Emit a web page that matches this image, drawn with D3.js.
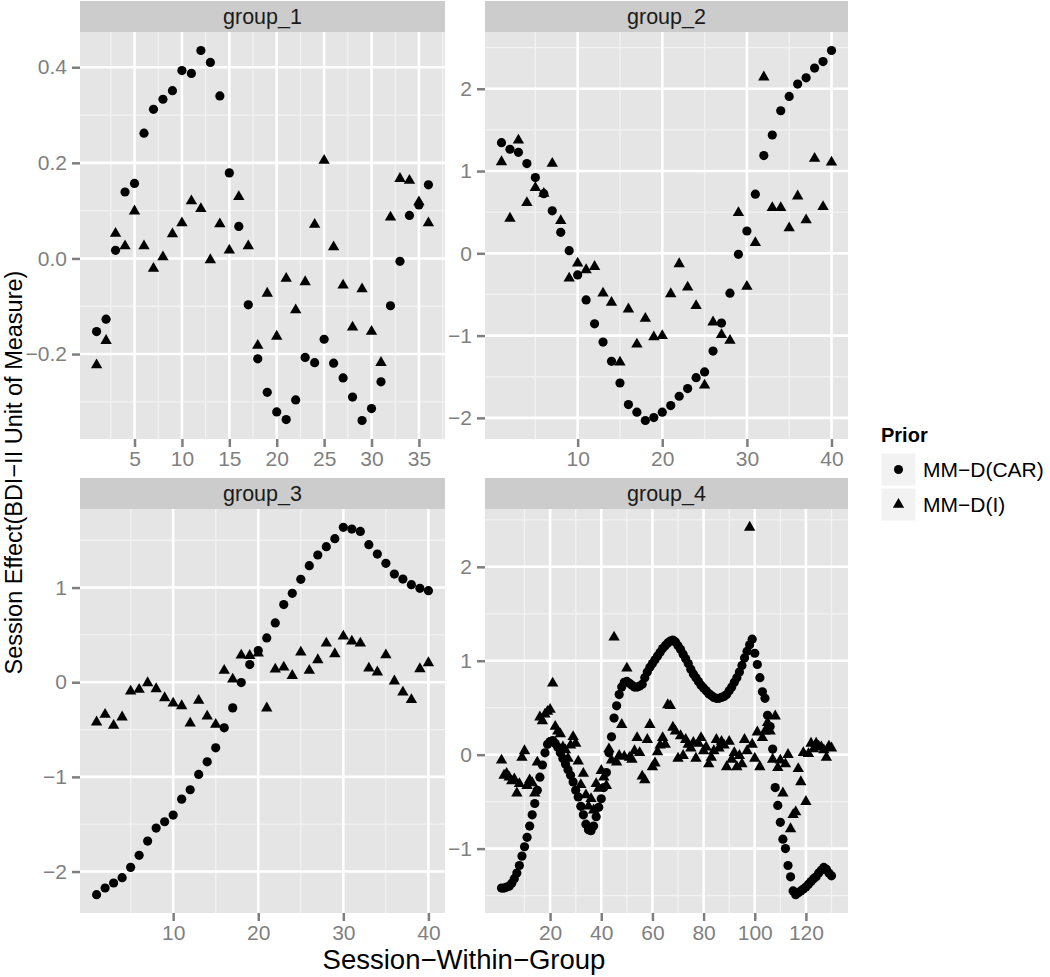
<!DOCTYPE html>
<html>
<head>
<meta charset="utf-8">
<script src="https://cdn.jsdelivr.net/npm/d3@7"></script>
<style>
  body { margin: 0; background: #fff; }
  svg { display: block; font-family: "Liberation Sans", Arial, sans-serif; }
</style>
</head>
<body>
<svg id="chart" width="1050" height="977"></svg>
<script>
// Session effects per group (index i -> session i+1)
var groupNames = ["group_1", "group_2", "group_3", "group_4"];
var priorNames = ["MM\u2212D(CAR)", "MM\u2212D(I)"];

var group1Car = [-0.153, -0.127, 0.017, 0.139, 0.157, 0.262, 0.312, 0.333, 0.351, 0.393,
  0.387, 0.435, 0.410, 0.340, 0.179, 0.067, -0.097, -0.210, -0.280, -0.321,
  -0.337, -0.296, -0.207, -0.218, -0.169, -0.219, -0.250, -0.290, -0.339, -0.314,
  -0.258, -0.099, -0.006, 0.090, 0.112, 0.154];
var group1Ind = [-0.223, -0.172, 0.052, 0.026, 0.099, 0.026, -0.021, 0.003, 0.051, 0.074,
  0.120, 0.104, -0.003, 0.072, 0.017, 0.129, 0.026, -0.182, -0.073, -0.163,
  -0.042, -0.108, -0.049, 0.071, 0.205, 0.024, -0.056, -0.144, -0.064, -0.153,
  -0.218, 0.086, 0.167, 0.163, 0.118, 0.074];

var group2Car = [1.345, 1.265, 1.228, 1.091, 0.921, 0.725, 0.517, 0.255, 0.032, -0.263,
  -0.566, -0.857, -1.079, -1.313, -1.576, -1.838, -1.931, -2.032, -1.996, -1.931,
  -1.851, -1.737, -1.644, -1.511, -1.442, -1.188, -0.848, -0.485, -0.012, 0.271,
  0.719, 1.188, 1.438, 1.733, 1.907, 2.057, 2.133, 2.251, 2.331, 2.465];
var group2Ind = [1.111, 0.424, 1.374, 0.614, 0.796, 0.727, 1.091, 0.396, -0.303, -0.121,
  -0.202, -0.162, -0.485, -0.598, -1.325, -0.679, -1.105, -0.792, -1.018, -1.002,
  -0.493, -0.129, -0.412, -0.638, -1.604, -0.836, -0.990, -1.059, 0.493, -0.404,
  0.129, 2.141, 0.554, 0.554, 0.307, 0.695, 0.404, 1.152, 0.566, 1.107];

var group3Car = [-2.244, -2.174, -2.121, -2.065, -1.956, -1.829, -1.678, -1.541, -1.474, -1.403,
  -1.235, -1.136, -0.974, -0.841, -0.693, -0.482, -0.271, -0.004, 0.186, 0.334,
  0.468, 0.626, 0.820, 0.939, 1.087, 1.231, 1.344, 1.432, 1.516, 1.636,
  1.618, 1.593, 1.453, 1.354, 1.256, 1.143, 1.090, 1.031, 0.992, 0.967];
var group3Ind = [-0.422, -0.341, -0.457, -0.369, -0.095, -0.077, -0.007, -0.070, -0.165, -0.222,
  -0.250, -0.433, -0.193, -0.359, -0.447, 0.123, 0.032, 0.285, 0.281, 0.306,
  -0.274, 0.137, 0.158, 0.070, 0.317, 0.123, 0.236, 0.412, 0.299, 0.485,
  0.433, 0.412, 0.148, 0.106, 0.288, 0.011, -0.106, -0.186, 0.141, 0.204];

var group4Car = [-1.42, -1.42, -1.41, -1.40, -1.37, -1.32, -1.26, -1.18, -1.08, -0.98,
  -0.88, -0.76, -0.64, -0.52, -0.38, -0.24, -0.11, 0.02, 0.11, 0.14,
  0.15, 0.12, 0.08, 0.02, -0.04, -0.10, -0.16, -0.22, -0.29, -0.38,
  -0.45, -0.55, -0.64, -0.74, -0.80, -0.81, -0.76, -0.66, -0.56, -0.47,
  -0.35, -0.19, 0.02, 0.19, 0.39, 0.52, 0.64, 0.72, 0.77, 0.78,
  0.76, 0.74, 0.72, 0.72, 0.73, 0.75, 0.82, 0.88, 0.93, 0.97,
  1.01, 1.05, 1.09, 1.13, 1.16, 1.19, 1.21, 1.22, 1.20, 1.16,
  1.12, 1.07, 1.02, 0.97, 0.91, 0.86, 0.82, 0.78, 0.74, 0.71,
  0.68, 0.65, 0.63, 0.61, 0.60, 0.60, 0.61, 0.62, 0.64, 0.68,
  0.72, 0.77, 0.82, 0.88, 0.95, 1.03, 1.10, 1.17, 1.23, 1.08,
  0.96, 0.82, 0.67, 0.60, 0.42, 0.30, 0.06, -0.35, -0.54, -0.72,
  -0.90, -1.00, -1.18, -1.30, -1.45, -1.49, -1.47, -1.45, -1.43, -1.41,
  -1.38, -1.35, -1.32, -1.30, -1.26, -1.23, -1.20, -1.22, -1.26, -1.29];
var group4Ind = [-0.06, -0.22, -0.20, -0.24, -0.28, -0.26, -0.41, -0.31, -0.03, 0.04,
  -0.33, -0.27, -0.30, -0.41, -0.08, 0.40, 0.36, 0.43, 0.46, 0.48,
  0.76, 0.30, 0.25, 0.22, 0.08, 0.05, -0.04, 0.10, 0.19, 0.12,
  -0.07, -0.32, -0.20, -0.43, -0.55, -0.47, -0.59, -0.31, -0.36, -0.17,
  -0.24, -0.33, 0.06, -0.06, 1.25, -0.08, -0.01, 0.32, -0.02, 0.92,
  -0.03, -0.05, 0.04, 0.18, 0.02, -0.23, -0.27, 0.16, 0.32, -0.13,
  -0.09, 0.03, 0.10, 0.18, 0.11, 0.53, 0.52, 0.29, 0.25, -0.04,
  0.20, -0.01, 0.16, 0.11, 0.07, 0.13, -0.04, 0.12, 0.18, 0.04,
  0.08, -0.10, -0.03, 0.04, 0.16, 0.07, 0.14, 0.10, -0.13, 0.14,
  -0.05, 0.02, -0.13, -0.01, -0.10, 0.16, 0.04, 2.42, 0.11, -0.04,
  0.24, -0.13, 0.18, 0.25, 0.34, 0.25, -0.05, 0.41, -0.14, -0.06,
  -0.41, -0.10, 0.00, -0.79, -0.64, -0.61, -0.15, -0.29, 0.02, -0.50,
  0.01, 0.12, 0.06, 0.12, 0.09, 0.08, 0.05, -0.03, 0.09, 0.07];

// Tick values per panel
var xTicks = [[5, 10, 15, 20, 25, 30, 35], [10, 20, 30, 40], [10, 20, 30, 40], [20, 40, 60, 80, 100, 120]];
var yTicks = [[-0.2, 0.0, 0.2, 0.4], [-2, -1, 0, 1, 2], [-2, -1, 0, 1], [-1, 0, 1, 2]];
var yFormats = [".1f", "d", "d", "d"];

var carSeries = [group1Car, group2Car, group3Car, group4Car];
var indSeries = [group1Ind, group2Ind, group3Ind, group4Ind];

// Panel rectangles (plot area)
var panels = [
  { x0: 80, x1: 445, y0: 32, y1: 439 },
  { x0: 485, x1: 848, y0: 32, y1: 439 },
  { x0: 80, x1: 445, y0: 509, y1: 913 },
  { x0: 485, x1: 848, y0: 509, y1: 913 }
];
var stripH = 31;

var svg = d3.select("#chart");
var grey50 = "#7f7f7f";

// ggplot-like minor breaks: midpoints between (extended) majors, inside the domain
function minorBreaks(ticks, domain) {
  var step = ticks[1] - ticks[0];
  var b = [ticks[0] - step].concat(ticks, [ticks[ticks.length - 1] + step]);
  var out = [];
  for (var i = 0; i < b.length - 1; i++) {
    var m = (b[i] + b[i + 1]) / 2;
    if (m > domain[0] && m < domain[1]) out.push(m);
  }
  return out;
}

function expand(lo, hi) {
  var e = (hi - lo) * 0.05;
  return [lo - e, hi + e];
}

panels.forEach(function(p, k) {
  var car = carSeries[k], ind = indSeries[k];
  var n = car.length;

  var x = d3.scaleLinear().domain(expand(1, n)).range([p.x0, p.x1]);
  var all = car.concat(ind);
  var y = d3.scaleLinear().domain(expand(d3.min(all), d3.max(all))).range([p.y1, p.y0]);

  var g = svg.append("g");

  // Strip
  g.append("rect")
    .attr("x", p.x0).attr("y", p.y0 - stripH)
    .attr("width", p.x1 - p.x0).attr("height", stripH)
    .attr("fill", "#cccccc");
  g.append("text")
    .attr("x", (p.x0 + p.x1) / 2).attr("y", p.y0 - stripH / 2)
    .attr("dy", "0.35em")
    .attr("text-anchor", "middle")
    .style("font-size", "21.5px")
    .attr("fill", "#1a1a1a")
    .text(groupNames[k]);

  // Panel background
  g.append("rect")
    .attr("x", p.x0).attr("y", p.y0)
    .attr("width", p.x1 - p.x0).attr("height", p.y1 - p.y0)
    .attr("fill", "#e5e5e5");

  // Minor grid
  g.selectAll(".xminor")
    .data(minorBreaks(xTicks[k], x.domain()))
    .enter().append("line")
    .attr("x1", function(d) { return x(d); }).attr("x2", function(d) { return x(d); })
    .attr("y1", p.y0).attr("y2", p.y1)
    .attr("stroke", "#f2f2f2").attr("stroke-width", 1.3);
  g.selectAll(".yminor")
    .data(minorBreaks(yTicks[k], y.domain()))
    .enter().append("line")
    .attr("x1", p.x0).attr("x2", p.x1)
    .attr("y1", function(d) { return y(d); }).attr("y2", function(d) { return y(d); })
    .attr("stroke", "#f2f2f2").attr("stroke-width", 1.3);

  // Major grid
  g.selectAll(".xmajor")
    .data(xTicks[k])
    .enter().append("line")
    .attr("x1", function(d) { return x(d); }).attr("x2", function(d) { return x(d); })
    .attr("y1", p.y0).attr("y2", p.y1)
    .attr("stroke", "#ffffff").attr("stroke-width", 2.6);
  g.selectAll(".ymajor")
    .data(yTicks[k])
    .enter().append("line")
    .attr("x1", p.x0).attr("x2", p.x1)
    .attr("y1", function(d) { return y(d); }).attr("y2", function(d) { return y(d); })
    .attr("stroke", "#ffffff").attr("stroke-width", 2.6);

  // Axes
  var xAxis = g.append("g")
    .attr("transform", "translate(0," + p.y1 + ")")
    .call(d3.axisBottom(x).tickValues(xTicks[k]).tickSize(8).tickPadding(4)
      .tickFormat(d3.format("d")));
  var yAxis = g.append("g")
    .attr("transform", "translate(" + p.x0 + ",0)")
    .call(d3.axisLeft(y).tickValues(yTicks[k]).tickSize(8).tickPadding(5)
      .tickFormat(d3.format(yFormats[k])));
  [xAxis, yAxis].forEach(function(a) {
    a.select(".domain").remove();
    a.selectAll(".tick line").attr("stroke", grey50).attr("stroke-width", 2.5);
    a.selectAll(".tick text")
      .attr("fill", grey50)
      .style("font-size", "21px")
      .style("font-family", "'Liberation Sans', Arial, sans-serif");
  });

  // Points: CAR prior (circles)
  g.selectAll(".car")
    .data(car)
    .enter().append("circle")
    .attr("cx", function(d, i) { return x(i + 1); })
    .attr("cy", function(d) { return y(d); })
    .attr("r", 4.6)
    .attr("fill", "#000");

  // Points: I prior (triangles)
  var tri = d3.symbol().type(d3.symbolTriangle).size(56);
  g.selectAll(".ind")
    .data(ind)
    .enter().append("path")
    .attr("d", tri)
    .attr("transform", function(d, i) {
      return "translate(" + x(i + 1) + "," + y(d) + ")";
    })
    .attr("fill", "#000");
});

// Axis titles
svg.append("text")
  .attr("x", (panels[0].x0 + panels[1].x1) / 2)
  .attr("y", 969)
  .attr("text-anchor", "middle")
  .style("font-size", "27.5px")
  .attr("fill", "#000")
  .text("Session\u2212Within\u2212Group");

svg.append("text")
  .attr("transform", "translate(22," + ((panels[0].y0 + panels[2].y1) / 2) + ") rotate(-90)")
  .attr("text-anchor", "middle")
  .style("font-size", "23.5px")
  .attr("fill", "#000")
  .text("Session Effect(BDI\u2212II Unit of Measure)");

// Legend
var legend = svg.append("g").attr("transform", "translate(881,0)");
legend.append("text")
  .attr("x", 0).attr("y", 442)
  .style("font-size", "20px")
  .style("font-weight", "bold")
  .attr("fill", "#000")
  .text("Prior");

var keyShapes = [d3.symbolCircle, d3.symbolTriangle];
var keySizes = [64, 56];
priorNames.forEach(function(name, i) {
  var ky = 453 + i * 35;
  legend.append("rect")
    .attr("x", 0).attr("y", ky)
    .attr("width", 35).attr("height", 33)
    .attr("fill", "#f2f2f2")
    .attr("stroke", "#ffffff");
  legend.append("path")
    .attr("d", d3.symbol().type(keyShapes[i]).size(keySizes[i]))
    .attr("transform", "translate(17.5," + (ky + 16.5) + ")")
    .attr("fill", "#000");
  legend.append("text")
    .attr("x", 42).attr("y", ky + 16.5)
    .attr("dy", "0.35em")
    .style("font-size", "21px")
    .attr("fill", "#000")
    .text(name);
});
</script>
</body>
</html>
